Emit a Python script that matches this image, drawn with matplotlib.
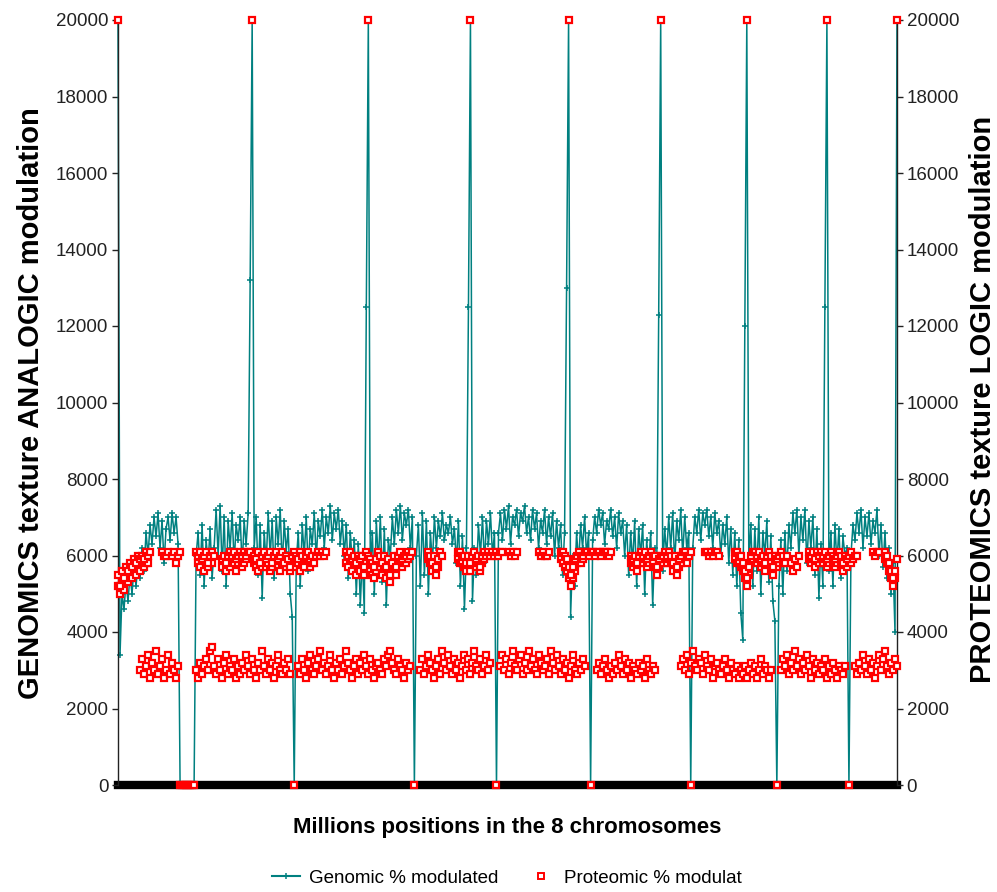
import numpy as np
import matplotlib
matplotlib.use("Agg")
import matplotlib.pyplot as plt
from matplotlib.lines import Line2D

# ------------------------------------------------------------
# data (values in hundreds), one point per position step
# ------------------------------------------------------------
genomic_h = [
    200,
    34, 50, 46, 53, 48, 55, 50, 57, 52, 58, 54, 62, 56, 66, 60, 68, 63, 70, 65, 71,
    62, 69, 58, 67, 70, 64, 71, 66, 70, 63,
    0, 0, 0, 0, 0, 0, 0, 0,
    60, 66, 55, 68, 52, 64, 58, 67, 54, 62, 72, 60, 73, 56, 70, 52, 69, 62, 71, 58,
    68, 64, 70, 57, 69, 63, 71,
    132, 200,
    62, 70, 55, 68, 49, 66, 58, 71, 60, 69, 54, 70, 63, 72, 57, 69, 61, 67, 50, 44,
    0,
    58, 66, 52, 68, 60, 70, 56, 67, 63, 71, 59, 69, 65, 72, 62, 70, 66, 73, 64, 71,
    67, 72, 63, 69, 60, 68, 54, 66, 58, 64, 50, 63, 47, 60, 45,
    125, 200,
    56, 66, 50, 69, 58, 70, 53, 67, 47, 64, 60, 70, 63, 72, 66, 73, 64, 71, 68, 72,
    62, 70,
    0,
    60, 68, 52, 71, 55, 69, 50, 66, 58, 70, 62, 69, 65, 71, 64, 68, 66, 70, 63, 67,
    58, 69, 52, 65, 46, 62,
    125, 200,
    48, 62, 55, 68, 60, 70, 58, 69, 63, 71, 60, 66,
    0,
    66, 71, 64, 72, 67, 73, 63, 70, 68, 72, 65, 71, 69, 73, 66, 70, 64, 72, 67, 71,
    62, 69, 66, 72, 63, 70, 65, 71, 60, 69, 62, 68, 55, 66,
    130, 200,
    44, 60, 52, 66, 58, 68, 62, 70, 60, 66,
    0,
    64, 70, 66, 72, 68, 71, 63, 69, 67, 72, 65, 70, 62, 71, 66, 69, 60, 68, 55, 66,
    58, 69, 52, 67, 60, 68, 50, 64, 57, 66, 47, 62, 55,
    123, 200,
    56, 67, 60, 70, 62, 71, 58, 69, 64, 72, 60, 70, 62, 66,
    0,
    62, 70, 66, 72, 64, 71, 68, 72, 65, 70, 62, 71, 66, 69, 60, 68, 63, 70, 58, 67,
    55, 66, 52, 64, 45, 38,
    120, 200,
    58, 68, 52, 67, 56, 70, 50, 66, 60, 69, 53, 65, 48, 43,
    0,
    52, 64, 50, 66, 56, 68, 62, 71, 66, 72, 60, 70, 64, 72, 58, 69, 62, 70, 55, 67,
    49, 63, 52,
    125, 200,
    56, 66, 52, 68, 58, 67, 54, 65, 60, 62,
    0,
    60, 68, 64, 71, 66, 72, 62, 70, 65, 71, 63, 69, 66, 72, 60, 68, 57, 66, 54, 62,
    50, 58, 40,
    200,
]

# proteomic: chromosome edges (20000), gaps (0), upper band (~6000), lower band (~3000)
prot_peak_pos = [0, 67, 125, 176, 225, 271, 314, 354, 389]
prot_zero_pos = [31, 32, 33, 34, 35, 36, 37, 38, 88, 148, 189, 236, 286, 329, 365]

prot_hi_runs = [
    (0, [55, 52, 56, 54, 57, 56, 58, 57, 59, 58, 60, 59, 60, 59, 61, 60, 61]),
    (22, [61, 60, 60, 61]),
    (27, [60, 61, 58, 60, 61]),
    (39, [61, 60, 61, 59, 60, 61, 58, 60, 61, 60]),
    (52, [59, 60, 58, 60, 61, 60, 61, 59, 60, 61, 60, 61, 60, 61, 61]),
    (68, [60, 59, 61, 58, 60, 61, 59, 60, 61, 58, 60, 61, 59, 60, 61, 58, 60, 59, 57,
          60, 61, 60, 59, 61, 60, 57, 60, 61, 59, 60, 58, 60, 61, 60, 61, 60, 61]),
    (114, [61, 60, 61, 59, 60, 58, 60, 59, 60, 57, 61, 60, 59, 58, 57, 59, 61, 60, 58,
           60, 57, 59, 55, 58, 60, 57, 60, 61, 59, 60, 60, 61, 60, 61]),
    (155, [61, 60, 58, 60, 57, 59, 61, 60]),
    (170, [61, 61, 60, 60, 58, 60, 58, 60, 61, 59, 60, 57, 60, 61, 60, 61, 60, 61, 60,
           61, 60, 61, 61]),
    (195, [61, 60, 61, 60, 61]),
    (210, [61, 60, 61, 60, 60, 61]),
    (221, [61, 61, 60, 59, 57, 55, 57, 59, 60, 61, 60, 60, 61, 61, 60, 61, 61, 60, 61,
           61, 60, 61, 61, 61, 60, 61]),
    (256, [60, 59, 60, 58, 60, 61, 60, 61, 59, 60, 61, 60, 60, 57, 59, 60, 60, 61, 60,
           61, 60, 58, 60, 57, 59, 60, 61, 61, 60, 60, 61]),
    (293, [61, 61, 60, 61, 60, 61, 61, 60]),
    (308, [61, 61, 60, 60, 58, 56, 54, 57, 60, 61, 61]),
    (319, [60, 61, 59, 60, 58, 60, 61, 60, 57, 60, 59, 60, 61, 60, 58, 60]),
    (336, [58, 56, 59, 57, 60]),
    (345, [61, 60, 61, 59, 61, 60, 61, 60, 61, 59, 60, 61, 60, 59, 60, 61, 60, 58, 60,
           59, 60, 61, 59, 60, 60]),
    (377, [61, 60, 61, 61]),
    (383, [61, 60, 58, 56, 54, 56, 59]),
]

# second reading of the same upper band (the thicker parts of the red mass)
prot_hi2_runs = [
    (0, [52, 50, 53, 51, 54, 53, 55, 54, 56, 55, 57, 56, 58, 57, 58, 58]),
    (40, [58, 57, 59, 56, 58, 57, 59, 58]),
    (52, [57, 59, 56, 58, 57, 59, 58, 56, 58, 59, 57, 58, 59]),
    (68, [58, 57, 56, 58, 57, 59, 57, 58, 56, 57, 59, 58, 57, 56, 58, 59, 57, 58, 56,
          58, 57, 59, 58, 56, 58, 57, 59, 58, 57, 58]),
    (114, [58, 57, 59, 56, 58, 55, 57, 56, 58, 55, 58, 57, 56, 55, 54, 56, 58, 57, 55,
           57, 54, 56, 53, 55, 57, 55, 58, 59, 57, 58, 58, 59]),
    (155, [59, 58, 56, 58, 55, 57]),
    (170, [59, 58, 58, 57, 56, 58, 56, 58, 59, 57, 58, 56, 58, 59]),
    (221, [59, 58, 57, 56, 54, 52, 54, 56, 58, 59, 58, 59]),
    (256, [58, 57, 58, 56, 58, 59, 58, 59, 57, 58, 59, 58, 57, 55, 57, 58, 58, 59, 58,
           59, 58, 56, 58, 55, 57, 58, 59, 59, 58]),
    (308, [59, 58, 58, 57, 56, 54, 52, 55, 58, 59]),
    (319, [58, 59, 57, 58, 56, 58, 59, 58, 55, 58, 57, 58, 59, 58]),
    (345, [59, 58, 59, 57, 59, 58, 59, 58, 59, 57, 58, 59, 58, 57, 58, 59, 58, 56, 58,
           57, 59, 58]),
    (383, [59, 58, 56, 54, 52, 54]),
]

prot_lo_runs = [
    (11, [30, 33, 29, 31, 34, 28, 32, 30, 35, 29, 31, 33, 28, 30, 34, 29, 32, 30, 28, 31]),
    (39, [30, 28, 32, 29, 31, 33, 30, 35, 36, 31, 29, 33, 30, 28, 32, 34, 29, 31, 30, 33,
          28, 31, 29, 32, 30, 34, 31, 29, 33, 30, 28, 32, 30, 35, 31, 29, 33, 30, 32, 28,
          31, 34, 30, 29, 32, 30, 33, 29]),
    (90, [31, 29, 33, 30, 28, 32, 34, 30, 29, 31, 33, 35, 30, 32, 29, 31, 34, 30, 28, 32,
          30, 33, 29, 31, 35, 32, 30, 28, 31, 33, 29, 32, 30, 34, 31, 29, 33, 30, 28, 31,
          32, 30, 29, 33, 31, 34, 35, 32, 30, 29, 33, 31, 30, 28, 32, 30, 31]),
    (151, [30, 33, 29, 31, 34, 32, 30, 28, 31, 33, 29, 35, 32, 30, 34, 31, 29, 33, 30, 32,
           28, 31, 34, 30, 33, 29, 32, 35, 31, 30, 33, 29, 31, 34, 30, 32]),
    (191, [31, 34, 30, 33, 29, 32, 35, 31, 30, 33, 34, 29, 32, 30, 35, 31, 33, 30, 29, 34,
           32, 30, 31, 33, 29, 35, 32, 30, 34, 31, 29, 33, 30, 32, 28, 31, 34, 30, 29, 32,
           30, 33, 31]),
    (239, [30, 32, 29, 31, 33, 30, 28, 31, 29, 32, 30, 34, 31, 29, 33, 30, 32, 28, 31, 30,
           29, 32, 30, 31, 28, 33, 30, 29, 31, 30]),
    (281, [31, 33, 30, 34, 29, 32, 35, 31, 30, 33, 32, 29, 34, 31, 30, 33, 28, 31, 32, 30,
           29, 31, 33, 30, 28, 32, 30, 29, 31, 28, 30, 29, 31, 28, 30, 32, 29, 31, 28, 30,
           33, 29, 31, 30, 28, 30]),
    (331, [30, 33, 31, 34, 29, 32, 30, 35, 31, 33, 29, 32, 30, 34, 31, 28, 33, 30, 32, 29,
           31, 30, 33, 28, 31, 29, 32, 30, 28, 31, 30, 29, 31]),
    (368, [31, 29, 32, 30, 34, 31, 29, 33, 30, 32, 28, 31, 34, 30, 33, 35, 31, 29, 32, 30,
           33, 31]),
]

yticks = list(range(0, 20001, 2000))

# ------------------------------------------------------------
genomic = np.array(genomic_h) * 100
gx = np.arange(len(genomic))


def runs_to_xy(runs):
    xs, ys = [], []
    for start, vals in runs:
        xs.extend(range(start, start + len(vals)))
        ys.extend(v * 100 for v in vals)
    return xs, ys


hx, hy = runs_to_xy(prot_hi_runs)
h2x, h2y = runs_to_xy(prot_hi2_runs)
lx, ly = runs_to_xy(prot_lo_runs)
px = np.array(prot_peak_pos + prot_zero_pos + h2x + hx + lx)
py = np.array([20000] * len(prot_peak_pos) + [0] * len(prot_zero_pos) + h2y + hy + ly)

sans = ['Liberation Sans', 'DejaVu Sans']
teal = '#008080'
red = '#ff0000'

fig = plt.figure(figsize=(9.97, 8.92), dpi=100)
ax = fig.add_axes([118 / 997, 1 - 785 / 892, (897 - 118) / 997, (785 - 20) / 892])

ax.axhline(0, color='black', lw=6.0, zorder=1, clip_on=False)
ax.plot(gx, genomic, color=teal, lw=1.1, marker='+', ms=4, mew=1.1,
        zorder=2, clip_on=False)
ax.plot(px, py, ls='none', marker='s', ms=5, mew=1.6, mec=red, mfc='white',
        zorder=3, clip_on=False)

ax.set_xlim(0, len(genomic) - 1)
ax.set_ylim(0, 20000)
ax.set_xticks([])
ax.set_yticks(yticks)
ax.spines['top'].set_visible(False)
ax.spines['bottom'].set_visible(False)
for s in ('left', 'right'):
    ax.spines[s].set_linewidth(1.0)
    ax.spines[s].set_color('#222222')

ax.tick_params(axis='y', which='both', left=True, right=True, labelleft=True,
               labelright=True, direction='out', length=4, width=1.0,
               color='#222222', pad=3, labelsize=13.5, labelcolor='#222222')
for lab in ax.get_yticklabels():
    lab.set_family(sans)

fig.text(31 / 997, 1 - 403 / 892, 'GENOMICS texture ANALOGIC modulation',
         rotation=90, ha='center', va='center', fontsize=21, fontweight='bold',
         family=sans)
fig.text(983 / 997, 1 - 399 / 892, 'PROTEOMICS texture LOGIC modulation',
         rotation=90, ha='center', va='center', fontsize=21, fontweight='bold',
         family=sans)
fig.text(507 / 997, 1 - 828 / 892, 'Millions positions in the 8 chromosomes',
         ha='center', va='center', fontsize=16, fontweight='bold', family=sans)

handles = [
    Line2D([], [], color=teal, lw=1.5, marker='+', ms=4, mew=1.1),
    Line2D([], [], ls='none', marker='s', ms=5, mew=1.4, mec=red, mfc='white'),
]
fig.legend(handles, ['Genomic % modulated', 'Proteomic % modulat'],
           loc='center', bbox_to_anchor=(507 / 997, 1 - 878 / 892), ncol=2,
           frameon=False, prop={'family': sans, 'size': 13.5},
           handlelength=1.5, columnspacing=1.5, handletextpad=0.5)

fig.savefig('out.png', dpi=100)
